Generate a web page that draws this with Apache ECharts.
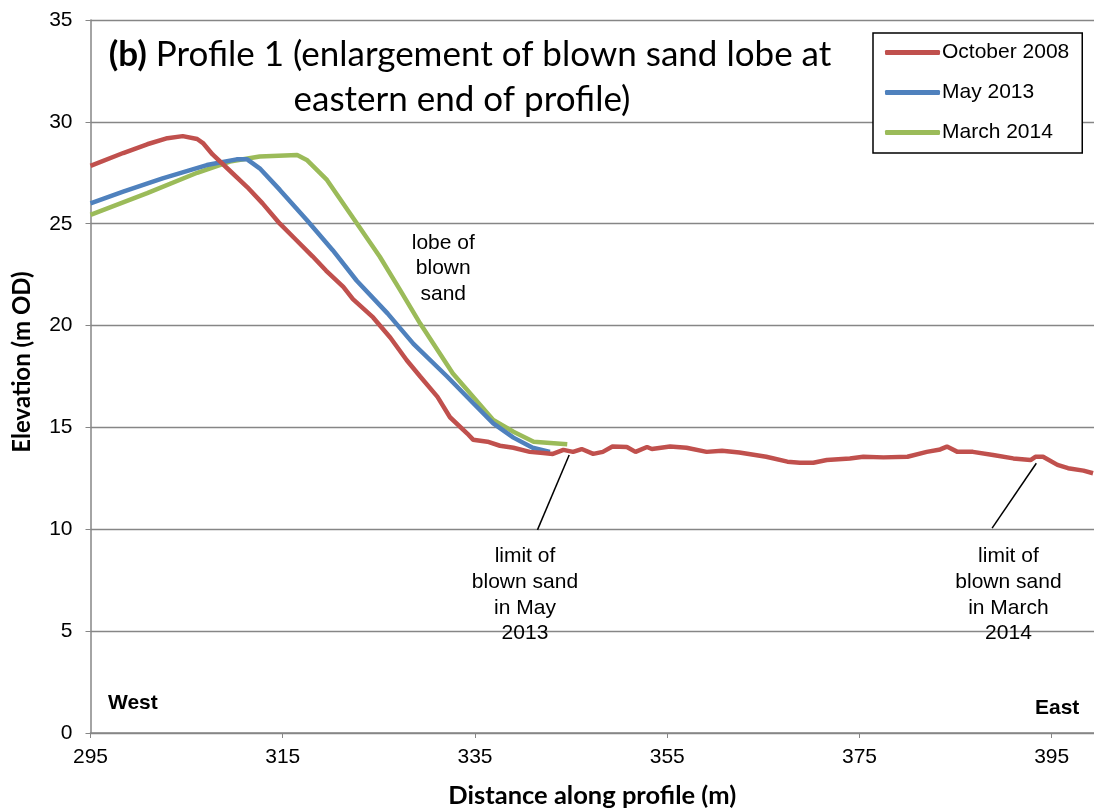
<!DOCTYPE html>
<html><head><meta charset="utf-8">
<script src="https://cdn.jsdelivr.net/npm/echarts@6/dist/echarts.min.js"></script>
<style>html,body{margin:0;padding:0;background:#fff}#c{width:1094px;height:808px}</style>
</head><body><div id="c"></div>
<script>
// Data (distance m, elevation m OD)
const seriesNames = ['October 2008', 'May 2013', 'March 2014'];
const oct2008 = [[295.0,27.84],[298.4,28.47],[300.9,28.9],[303.0,29.2],[304.6,29.3],[306.1,29.16],[306.7,28.96],[307.7,28.4],[309.5,27.6],[311.3,26.8],[312.9,26.0],[314.7,25.0],[316.4,24.2],[318.1,23.4],[319.5,22.7],[321.3,21.9],[322.3,21.3],[324.4,20.4],[326.2,19.4],[327.9,18.3],[329.3,17.5],[331.1,16.5],[332.4,15.5],[334.2,14.7],[334.8,14.4],[336.3,14.3],[337.6,14.1],[339.0,14.0],[340.7,13.8],[342.1,13.75],[343.1,13.7],[344.2,13.9],[345.2,13.8],[346.1,13.94],[347.3,13.7],[348.3,13.8],[349.3,14.06],[350.8,14.04],[351.7,13.8],[352.9,14.04],[353.4,13.94],[355.3,14.06],[357.0,14.0],[359.1,13.8],[360.7,13.86],[362.5,13.77],[365.3,13.56],[367.5,13.32],[368.8,13.27],[370.2,13.27],[371.6,13.4],[374.0,13.48],[375.4,13.56],[377.5,13.53],[380.0,13.56],[382.0,13.8],[383.4,13.92],[384.1,14.06],[385.2,13.8],[386.8,13.8],[388.9,13.65],[391.0,13.48],[392.8,13.4],[393.3,13.56],[394.1,13.56],[395.6,13.16],[396.7,13.0],[398.3,12.88],[399.3,12.75]];
const may2013 = [[295.0,26.0],[298.4,26.57],[302.5,27.23],[307.1,27.88],[310.2,28.16],[311.3,28.16],[312.6,27.72],[314.7,26.66],[317.5,25.18],[320.2,23.7],[322.7,22.2],[325.9,20.6],[328.6,19.1],[332.1,17.5],[334.8,16.2],[336.9,15.2],[339.0,14.5],[341.0,14.0],[342.8,13.8]];
const mar2014 = [[295.0,25.43],[300.9,26.5],[306.1,27.5],[309.5,28.05],[312.6,28.3],[316.5,28.37],[317.5,28.13],[319.6,27.15],[322.7,25.02],[325.1,23.38],[327.2,21.75],[329.3,20.1],[332.7,17.65],[336.9,15.37],[339.0,14.79],[341.1,14.3],[344.6,14.17]];
const xTicks = [295, 315, 335, 355, 375, 395];
const yTicks = [0, 5, 10, 15, 20, 25, 30, 35];
const colors = ['#C0504D', '#4F81BD', '#9BBB59'];
// annotations: text + leader line in data coords
const notes = [
  {text: 'lobe of\nblown\nsand', at: [331.7, 22.8]},
  {text: 'limit of\nblown sand\nin May\n2013', at: [340.2, 6.78], line: [[341.5, 9.97], [344.8, 13.65]]},
  {text: 'limit of\nblown sand\nin March\n2014', at: [390.5, 6.78], line: [[388.8, 10.06], [393.4, 13.24]]}
];

const chart = echarts.init(document.getElementById('c'), null, {renderer: 'canvas'});
const axisGrey = '#868686';
chart.setOption({
  animation: false,
  color: colors,
  title: [{
    text: '{b|(b)} Profile 1 (enlargement of blown sand lobe at',
    left: 465, top: 27, textAlign: 'center',
    textStyle: {fontFamily: 'Lato', fontSize: 35, fontWeight: 'normal', color: '#000', lineHeight: 45,
      rich: {b: {fontFamily: 'Lato', fontSize: 35, fontWeight: 'bold', color: '#000', lineHeight: 45}}}
  }, {
    text: 'eastern end of profile)',
    left: 457, top: 72, textAlign: 'center',
    textStyle: {fontFamily: 'Lato', fontSize: 35, fontWeight: 'normal', color: '#000', lineHeight: 45}
  }],
  legend: {
    orient: 'vertical', left: 873, top: 33,
    padding: [9, 13, 10, 12], itemGap: 19,
    backgroundColor: '#fff', borderColor: '#000', borderWidth: 1.5,
    icon: 'roundRect', itemWidth: 55, itemHeight: 5,
    textStyle: {fontFamily: 'Liberation Sans', fontSize: 21, lineHeight: 21, color: '#000', padding: [0, 0, 0, -3]},
    data: seriesNames
  },
  grid: {left: 90.5, right: 0, top: 20, bottom: 75, containLabel: false, outerBoundsMode: 'none'},
  xAxis: {
    type: 'value', min: 295, max: 399.4, interval: 20,
    name: 'Distance along profile (m)', nameLocation: 'middle', nameGap: 50,
    nameTextStyle: {fontFamily: 'Lato', fontSize: 25.5, fontWeight: 'bold', color: '#000'},
    axisLine: {lineStyle: {color: axisGrey, width: 1.5}},
    axisTick: {show: true, length: 5, lineStyle: {color: axisGrey}},
    axisLabel: {fontFamily: 'Liberation Sans', fontSize: 21, color: '#000', margin: 14, showMaxLabel: false,
      formatter: v => xTicks.includes(v) ? String(v) : ''},
    splitLine: {show: false}
  },
  yAxis: {
    type: 'value', min: 0, max: 35, interval: 5,
    axisLine: {show: true, lineStyle: {color: axisGrey, width: 1.5}},
    axisTick: {show: true, length: 5, lineStyle: {color: axisGrey}},
    axisLabel: {fontFamily: 'Liberation Sans', fontSize: 21, color: '#000', margin: 18,
      formatter: v => yTicks.includes(v) ? String(v) : ''},
    splitLine: {lineStyle: {color: axisGrey, width: 1.3}}
  },
  series: [
    {name: seriesNames[0], type: 'line', data: oct2008, showSymbol: false, lineStyle: {width: 4.5, color: colors[0]}, z: 3},
    {name: seriesNames[1], type: 'line', data: may2013, showSymbol: false, lineStyle: {width: 4.5, color: colors[1]}, z: 2},
    {name: seriesNames[2], type: 'line', data: mar2014, showSymbol: false, lineStyle: {width: 4.5, color: colors[2]}, z: 1}
  ]
});

const g = [];
notes.forEach(n => {
  const p = chart.convertToPixel({gridIndex: 0}, n.at);
  g.push({type: 'text', x: p[0], y: p[1], z: 10,
    style: {text: n.text, fill: '#000', font: '21px "Liberation Sans"', align: 'center', verticalAlign: 'middle', lineHeight: 25.8}});
  if (n.line) {
    const a = chart.convertToPixel({gridIndex: 0}, n.line[0]);
    const b = chart.convertToPixel({gridIndex: 0}, n.line[1]);
    g.push({type: 'line', z: 10, shape: {x1: a[0], y1: a[1], x2: b[0], y2: b[1]}, style: {stroke: '#000', lineWidth: 1.5}});
  }
});
g.push({type: 'text', x: 108, y: 703, style: {text: 'West', fill: '#000', font: 'bold 21px "Liberation Sans"', verticalAlign: 'middle'}});
g.push({type: 'text', x: 1035, y: 708, style: {text: 'East', fill: '#000', font: 'bold 21px "Liberation Sans"', verticalAlign: 'middle'}});
g.push({type: 'text', x: 22, y: 362, rotation: Math.PI / 2,
  style: {text: 'Elevation (m OD)', fill: '#000', font: 'bold 24px Lato', align: 'center', verticalAlign: 'middle'}});
chart.setOption({graphic: g});
</script>
</body></html>
